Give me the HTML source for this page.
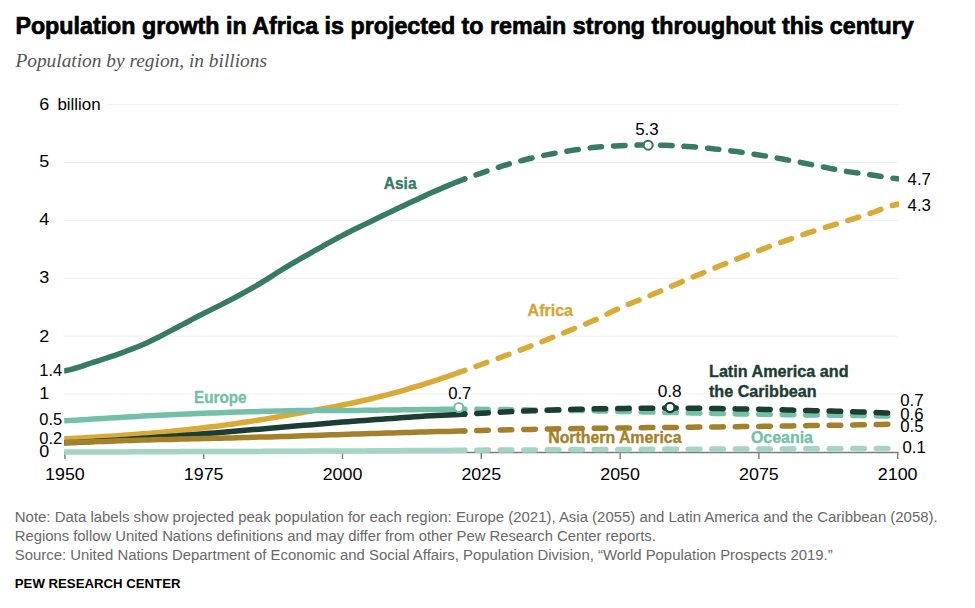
<!DOCTYPE html>
<html><head><meta charset="utf-8"><style>
html,body{margin:0;padding:0;background:#fff;width:975px;height:608px;overflow:hidden}
svg{display:block}
</style></head><body>
<svg width="975" height="608" viewBox="0 0 975 608">
<rect width="975" height="608" fill="#fff"/><defs><clipPath id="cl"><rect x="64.2" y="0" width="900" height="608"/></clipPath><clipPath id="cr"><rect x="0" y="0" width="899" height="608"/></clipPath></defs>
<line x1="64" y1="394.1" x2="898" y2="394.1" stroke="#f0f0f0" stroke-width="1"/>
<line x1="64" y1="336.2" x2="898" y2="336.2" stroke="#f0f0f0" stroke-width="1"/>
<line x1="64" y1="278.3" x2="898" y2="278.3" stroke="#f0f0f0" stroke-width="1"/>
<line x1="64" y1="220.4" x2="898" y2="220.4" stroke="#f0f0f0" stroke-width="1"/>
<line x1="64" y1="162.5" x2="898" y2="162.5" stroke="#f0f0f0" stroke-width="1"/>
<line x1="108" y1="104.6" x2="898" y2="104.6" stroke="#f0f0f0" stroke-width="1"/>
<line x1="64.4" y1="452.5" x2="898.5" y2="452.5" stroke="#7c7c7c" stroke-width="1.4"/>
<line x1="64.9" y1="452" x2="64.9" y2="459" stroke="#7c7c7c" stroke-width="1.4"/>
<line x1="203.7" y1="452" x2="203.7" y2="459" stroke="#7c7c7c" stroke-width="1.4"/>
<line x1="342.5" y1="452" x2="342.5" y2="459" stroke="#7c7c7c" stroke-width="1.4"/>
<line x1="481.3" y1="452" x2="481.3" y2="459" stroke="#7c7c7c" stroke-width="1.4"/>
<line x1="620.1" y1="452" x2="620.1" y2="459" stroke="#7c7c7c" stroke-width="1.4"/>
<line x1="758.9" y1="452" x2="758.9" y2="459" stroke="#7c7c7c" stroke-width="1.4"/>
<line x1="897.7" y1="452" x2="897.7" y2="459" stroke="#7c7c7c" stroke-width="1.4"/>
<path d="M64.9,452.1 L70.5,452.1 L76.0,452.0 L81.6,452.0 L87.1,452.0 L92.7,452.0 L98.2,452.0 L103.8,451.9 L109.3,451.9 L114.9,451.9 L120.4,451.9 L126.0,451.9 L131.5,451.8 L137.1,451.8 L142.6,451.8 L148.2,451.8 L153.7,451.7 L159.3,451.7 L164.8,451.7 L170.4,451.7 L175.9,451.7 L181.5,451.6 L187.0,451.6 L192.6,451.6 L198.1,451.6 L203.7,451.6 L209.3,451.5 L214.8,451.5 L220.4,451.5 L225.9,451.5 L231.5,451.5 L237.0,451.5 L242.6,451.4 L248.1,451.4 L253.7,451.4 L259.2,451.4 L264.8,451.3 L270.3,451.3 L275.9,451.3 L281.4,451.3 L287.0,451.2 L292.5,451.2 L298.1,451.2 L303.6,451.2 L309.2,451.1 L314.7,451.1 L320.3,451.1 L325.8,451.1 L331.4,451.0 L336.9,451.0 L342.5,451.0 L348.1,451.0 L353.6,450.9 L359.2,450.9 L364.7,450.9 L370.3,450.8 L375.8,450.8 L381.4,450.8 L386.9,450.7 L392.5,450.7 L398.0,450.7 L403.6,450.6 L409.1,450.6 L414.7,450.6 L420.2,450.5 L425.8,450.5 L431.3,450.5 L436.9,450.4 L442.4,450.4 L448.0,450.4 L453.5,450.3 L459.1,450.3 L464.6,450.3" fill="none" stroke="#a3d4c7" stroke-width="5.5" stroke-linecap="round" stroke-linejoin="round" clip-path="url(#cl)"/>
<path d="M464.6,450.3 L470.2,450.2 L475.7,450.2 L481.3,450.2 L486.9,450.1 L492.4,450.1 L498.0,450.1 L503.5,450.1 L509.1,450.0 L514.6,450.0 L520.2,450.0 L525.7,449.9 L531.3,449.9 L536.8,449.9 L542.4,449.8 L547.9,449.8 L553.5,449.8 L559.0,449.8 L564.6,449.7 L570.1,449.7 L575.7,449.7 L581.2,449.7 L586.8,449.6 L592.3,449.6 L597.9,449.6 L603.4,449.5 L609.0,449.5 L614.5,449.5 L620.1,449.5 L625.7,449.4 L631.2,449.4 L636.8,449.4 L642.3,449.4 L647.9,449.4 L653.4,449.3 L659.0,449.3 L664.5,449.3 L670.1,449.3 L675.6,449.2 L681.2,449.2 L686.7,449.2 L692.3,449.2 L697.8,449.2 L703.4,449.1 L708.9,449.1 L714.5,449.1 L720.0,449.1 L725.6,449.1 L731.1,449.0 L736.7,449.0 L742.2,449.0 L747.8,449.0 L753.3,449.0 L758.9,448.9 L764.5,448.9 L770.0,448.9 L775.6,448.9 L781.1,448.9 L786.7,448.9 L792.2,448.8 L797.8,448.8 L803.3,448.8 L808.9,448.8 L814.4,448.8 L820.0,448.7 L825.5,448.7 L831.1,448.7 L836.6,448.7 L842.2,448.7 L847.7,448.6 L853.3,448.6 L858.8,448.6 L864.4,448.6 L869.9,448.6 L875.5,448.5 L881.0,448.5 L886.6,448.5 L892.1,448.5 L897.7,448.5" fill="none" stroke="#a3d4c7" stroke-width="5.5" stroke-linecap="round" stroke-linejoin="round" stroke-dasharray="11.5 12.0" stroke-dashoffset="-12.2" clip-path="url(#cr)"/>
<path d="M64.9,438.8 L70.5,438.6 L76.0,438.3 L81.6,438.0 L87.1,437.6 L92.7,437.3 L98.2,437.0 L103.8,436.6 L109.3,436.3 L114.9,435.9 L120.4,435.5 L126.0,435.1 L131.5,434.7 L137.1,434.3 L142.6,433.8 L148.2,433.4 L153.7,432.9 L159.3,432.4 L164.8,431.9 L170.4,431.4 L175.9,430.8 L181.5,430.2 L187.0,429.7 L192.6,429.1 L198.1,428.4 L203.7,427.8 L209.3,427.1 L214.8,426.4 L220.4,425.7 L225.9,424.9 L231.5,424.2 L237.0,423.4 L242.6,422.5 L248.1,421.7 L253.7,420.9 L259.2,420.0 L264.8,419.1 L270.3,418.1 L275.9,417.2 L281.4,416.2 L287.0,415.2 L292.5,414.3 L298.1,413.3 L303.6,412.3 L309.2,411.3 L314.7,410.3 L320.3,409.3 L325.8,408.3 L331.4,407.2 L336.9,406.2 L342.5,405.0 L348.1,403.9 L353.6,402.7 L359.2,401.5 L364.7,400.3 L370.3,399.0 L375.8,397.6 L381.4,396.2 L386.9,394.8 L392.5,393.4 L398.0,391.8 L403.6,390.3 L409.1,388.7 L414.7,387.0 L420.2,385.3 L425.8,383.6 L431.3,381.8 L436.9,380.0 L442.4,378.1 L448.0,376.3 L453.5,374.4 L459.1,372.4 L464.6,370.5" fill="none" stroke="#d9aa36" stroke-width="5.5" stroke-linecap="round" stroke-linejoin="round" clip-path="url(#cl)"/>
<path d="M464.6,370.5 L470.2,368.5 L475.7,366.5 L481.3,364.5 L486.9,362.4 L492.4,360.4 L498.0,358.4 L503.5,356.3 L509.1,354.3 L514.6,352.2 L520.2,350.1 L525.7,348.0 L531.3,345.8 L536.8,343.7 L542.4,341.5 L547.9,339.3 L553.5,337.0 L559.0,334.8 L564.6,332.6 L570.1,330.3 L575.7,328.1 L581.2,325.9 L586.8,323.6 L592.3,321.1 L597.9,318.6 L603.4,315.9 L609.0,313.1 L614.5,310.4 L620.1,307.9 L625.7,305.5 L631.2,303.2 L636.8,301.0 L642.3,298.8 L647.9,296.5 L653.4,294.1 L659.0,291.7 L664.5,289.3 L670.1,286.8 L675.6,284.4 L681.2,282.1 L686.7,279.7 L692.3,277.3 L697.8,275.0 L703.4,272.7 L708.9,270.4 L714.5,268.1 L720.0,265.8 L725.6,263.6 L731.1,261.3 L736.7,259.1 L742.2,256.9 L747.8,254.8 L753.3,252.6 L758.9,250.5 L764.5,248.4 L770.0,246.3 L775.6,244.3 L781.1,242.3 L786.7,240.3 L792.2,238.4 L797.8,236.4 L803.3,234.6 L808.9,232.7 L814.4,230.9 L820.0,229.1 L825.5,227.4 L831.1,225.7 L836.6,224.0 L842.2,222.3 L847.7,220.5 L853.3,218.8 L858.8,217.0 L864.4,215.2 L869.9,213.5 L875.5,211.5 L881.0,209.3 L886.6,207.2 L892.1,205.5 L897.7,204.2" fill="none" stroke="#d9aa36" stroke-width="5.5" stroke-linecap="round" stroke-linejoin="round" stroke-dasharray="11.5 12.0" stroke-dashoffset="-12.2" clip-path="url(#cr)"/>
<path d="M64.9,420.7 L70.5,420.5 L76.0,420.2 L81.6,419.8 L87.1,419.4 L92.7,419.1 L98.2,418.8 L103.8,418.4 L109.3,418.1 L114.9,417.7 L120.4,417.4 L126.0,417.1 L131.5,416.7 L137.1,416.4 L142.6,416.0 L148.2,415.7 L153.7,415.5 L159.3,415.2 L164.8,414.9 L170.4,414.7 L175.9,414.5 L181.5,414.2 L187.0,414.0 L192.6,413.7 L198.1,413.5 L203.7,413.3 L209.3,413.1 L214.8,412.9 L220.4,412.7 L225.9,412.5 L231.5,412.3 L237.0,412.1 L242.6,412.0 L248.1,411.8 L253.7,411.7 L259.2,411.5 L264.8,411.3 L270.3,411.2 L275.9,411.0 L281.4,410.9 L287.0,410.8 L292.5,410.7 L298.1,410.6 L303.6,410.5 L309.2,410.4 L314.7,410.4 L320.3,410.4 L325.8,410.4 L331.4,410.4 L336.9,410.5 L342.5,410.5 L348.1,410.4 L353.6,410.4 L359.2,410.4 L364.7,410.3 L370.3,410.3 L375.8,410.2 L381.4,410.1 L386.9,410.1 L392.5,410.0 L398.0,409.9 L403.6,409.8 L409.1,409.7 L414.7,409.7 L420.2,409.6 L425.8,409.5 L431.3,409.5 L436.9,409.4 L442.4,409.3 L448.0,409.2 L453.5,409.2 L459.1,409.2 L464.6,409.2" fill="none" stroke="#74bfaa" stroke-width="5.5" stroke-linecap="round" stroke-linejoin="round" clip-path="url(#cl)"/>
<path d="M464.6,409.2 L470.2,409.3 L475.7,409.3 L481.3,409.4 L486.9,409.4 L492.4,409.4 L498.0,409.5 L503.5,409.5 L509.1,409.6 L514.6,409.7 L520.2,409.7 L525.7,409.8 L531.3,409.9 L536.8,409.9 L542.4,410.0 L547.9,410.1 L553.5,410.2 L559.0,410.3 L564.6,410.3 L570.1,410.4 L575.7,410.5 L581.2,410.6 L586.8,410.7 L592.3,410.8 L597.9,410.9 L603.4,411.0 L609.0,411.2 L614.5,411.3 L620.1,411.4 L625.7,411.5 L631.2,411.6 L636.8,411.7 L642.3,411.9 L647.9,412.0 L653.4,412.1 L659.0,412.2 L664.5,412.4 L670.1,412.5 L675.6,412.6 L681.2,412.7 L686.7,412.8 L692.3,413.0 L697.8,413.1 L703.4,413.2 L708.9,413.3 L714.5,413.4 L720.0,413.5 L725.6,413.7 L731.1,413.8 L736.7,413.9 L742.2,414.0 L747.8,414.0 L753.3,414.1 L758.9,414.2 L764.5,414.3 L770.0,414.4 L775.6,414.5 L781.1,414.6 L786.7,414.7 L792.2,414.8 L797.8,414.8 L803.3,414.9 L808.9,415.0 L814.4,415.0 L820.0,415.1 L825.5,415.2 L831.1,415.2 L836.6,415.3 L842.2,415.4 L847.7,415.5 L853.3,415.5 L858.8,415.6 L864.4,415.7 L869.9,415.7 L875.5,415.8 L881.0,415.9 L886.6,415.9 L892.1,416.0 L897.7,416.0" fill="none" stroke="#74bfaa" stroke-width="5.5" stroke-linecap="round" stroke-linejoin="round" stroke-dasharray="11.5 12.0" stroke-dashoffset="-12.2" clip-path="url(#cr)"/>
<path d="M64.9,442.8 L70.5,442.6 L76.0,442.4 L81.6,442.1 L87.1,441.7 L92.7,441.4 L98.2,441.1 L103.8,440.8 L109.3,440.5 L114.9,440.2 L120.4,439.8 L126.0,439.4 L131.5,439.1 L137.1,438.7 L142.6,438.3 L148.2,437.9 L153.7,437.5 L159.3,437.1 L164.8,436.7 L170.4,436.3 L175.9,435.9 L181.5,435.5 L187.0,435.1 L192.6,434.7 L198.1,434.2 L203.7,433.8 L209.3,433.3 L214.8,432.9 L220.4,432.4 L225.9,432.0 L231.5,431.5 L237.0,431.1 L242.6,430.6 L248.1,430.1 L253.7,429.6 L259.2,429.2 L264.8,428.7 L270.3,428.2 L275.9,427.7 L281.4,427.3 L287.0,426.8 L292.5,426.3 L298.1,425.8 L303.6,425.3 L309.2,424.9 L314.7,424.4 L320.3,423.9 L325.8,423.5 L331.4,423.0 L336.9,422.6 L342.5,422.1 L348.1,421.7 L353.6,421.3 L359.2,420.8 L364.7,420.4 L370.3,420.0 L375.8,419.6 L381.4,419.2 L386.9,418.8 L392.5,418.4 L398.0,418.0 L403.6,417.6 L409.1,417.2 L414.7,416.8 L420.2,416.5 L425.8,416.1 L431.3,415.8 L436.9,415.5 L442.4,415.3 L448.0,415.0 L453.5,414.7 L459.1,414.4 L464.6,414.1" fill="none" stroke="#1c3d33" stroke-width="5.5" stroke-linecap="round" stroke-linejoin="round" clip-path="url(#cl)"/>
<path d="M464.6,414.1 L470.2,413.8 L475.7,413.5 L481.3,413.2 L486.9,412.9 L492.4,412.6 L498.0,412.3 L503.5,412.0 L509.1,411.7 L514.6,411.5 L520.2,411.2 L525.7,411.0 L531.3,410.8 L536.8,410.6 L542.4,410.4 L547.9,410.2 L553.5,410.0 L559.0,409.8 L564.6,409.6 L570.1,409.5 L575.7,409.3 L581.2,409.2 L586.8,409.1 L592.3,408.9 L597.9,408.8 L603.4,408.7 L609.0,408.6 L614.5,408.6 L620.1,408.5 L625.7,408.4 L631.2,408.3 L636.8,408.3 L642.3,408.2 L647.9,408.2 L653.4,408.2 L659.0,408.1 L664.5,408.1 L670.1,408.1 L675.6,408.1 L681.2,408.1 L686.7,408.2 L692.3,408.2 L697.8,408.2 L703.4,408.3 L708.9,408.4 L714.5,408.5 L720.0,408.6 L725.6,408.7 L731.1,408.8 L736.7,408.9 L742.2,409.0 L747.8,409.1 L753.3,409.2 L758.9,409.3 L764.5,409.4 L770.0,409.5 L775.6,409.7 L781.1,409.8 L786.7,409.9 L792.2,410.1 L797.8,410.2 L803.3,410.4 L808.9,410.5 L814.4,410.7 L820.0,410.8 L825.5,411.0 L831.1,411.1 L836.6,411.2 L842.2,411.4 L847.7,411.5 L853.3,411.7 L858.8,411.9 L864.4,412.1 L869.9,412.2 L875.5,412.4 L881.0,412.7 L886.6,412.9 L892.1,413.1 L897.7,413.2" fill="none" stroke="#1c3d33" stroke-width="5.5" stroke-linecap="round" stroke-linejoin="round" stroke-dasharray="11.5 12.0" stroke-dashoffset="-12.2" clip-path="url(#cr)"/>
<path d="M64.9,442.6 L70.5,442.5 L76.0,442.3 L81.6,442.1 L87.1,442.0 L92.7,441.8 L98.2,441.6 L103.8,441.4 L109.3,441.2 L114.9,441.0 L120.4,440.8 L126.0,440.6 L131.5,440.4 L137.1,440.2 L142.6,440.1 L148.2,439.9 L153.7,439.8 L159.3,439.6 L164.8,439.5 L170.4,439.4 L175.9,439.2 L181.5,439.1 L187.0,439.0 L192.6,438.8 L198.1,438.7 L203.7,438.6 L209.3,438.5 L214.8,438.3 L220.4,438.2 L225.9,438.0 L231.5,437.9 L237.0,437.7 L242.6,437.6 L248.1,437.4 L253.7,437.3 L259.2,437.1 L264.8,437.0 L270.3,436.9 L275.9,436.7 L281.4,436.6 L287.0,436.4 L292.5,436.2 L298.1,436.0 L303.6,435.8 L309.2,435.6 L314.7,435.4 L320.3,435.2 L325.8,435.0 L331.4,434.8 L336.9,434.7 L342.5,434.5 L348.1,434.3 L353.6,434.1 L359.2,434.0 L364.7,433.8 L370.3,433.6 L375.8,433.4 L381.4,433.3 L386.9,433.1 L392.5,432.9 L398.0,432.7 L403.6,432.6 L409.1,432.4 L414.7,432.2 L420.2,432.1 L425.8,431.9 L431.3,431.8 L436.9,431.6 L442.4,431.5 L448.0,431.4 L453.5,431.2 L459.1,431.1 L464.6,430.9" fill="none" stroke="#a4802a" stroke-width="5.5" stroke-linecap="round" stroke-linejoin="round" clip-path="url(#cl)"/>
<path d="M464.6,430.9 L470.2,430.8 L475.7,430.6 L481.3,430.5 L486.9,430.3 L492.4,430.2 L498.0,430.1 L503.5,430.0 L509.1,429.8 L514.6,429.7 L520.2,429.6 L525.7,429.5 L531.3,429.4 L536.8,429.3 L542.4,429.2 L547.9,429.0 L553.5,428.9 L559.0,428.8 L564.6,428.7 L570.1,428.7 L575.7,428.6 L581.2,428.5 L586.8,428.4 L592.3,428.3 L597.9,428.3 L603.4,428.2 L609.0,428.1 L614.5,428.1 L620.1,428.0 L625.7,427.9 L631.2,427.9 L636.8,427.8 L642.3,427.7 L647.9,427.6 L653.4,427.6 L659.0,427.5 L664.5,427.5 L670.1,427.4 L675.6,427.4 L681.2,427.3 L686.7,427.2 L692.3,427.2 L697.8,427.1 L703.4,427.1 L708.9,427.0 L714.5,426.9 L720.0,426.9 L725.6,426.8 L731.1,426.7 L736.7,426.7 L742.2,426.6 L747.8,426.5 L753.3,426.4 L758.9,426.4 L764.5,426.3 L770.0,426.2 L775.6,426.1 L781.1,426.0 L786.7,426.0 L792.2,425.9 L797.8,425.8 L803.3,425.7 L808.9,425.6 L814.4,425.6 L820.0,425.5 L825.5,425.4 L831.1,425.3 L836.6,425.2 L842.2,425.1 L847.7,425.0 L853.3,424.9 L858.8,424.8 L864.4,424.7 L869.9,424.6 L875.5,424.5 L881.0,424.4 L886.6,424.3 L892.1,424.2 L897.7,424.2" fill="none" stroke="#a4802a" stroke-width="5.5" stroke-linecap="round" stroke-linejoin="round" stroke-dasharray="11.5 12.0" stroke-dashoffset="-12.2" clip-path="url(#cr)"/>
<path d="M64.9,370.7 L70.5,369.6 L76.0,368.0 L81.6,366.3 L87.1,364.4 L92.7,362.5 L98.2,360.8 L103.8,359.0 L109.3,357.2 L114.9,355.3 L120.4,353.3 L126.0,351.2 L131.5,349.1 L137.1,347.0 L142.6,344.7 L148.2,342.2 L153.7,339.6 L159.3,336.8 L164.8,333.8 L170.4,330.9 L175.9,328.0 L181.5,325.1 L187.0,322.2 L192.6,319.2 L198.1,316.3 L203.7,313.4 L209.3,310.6 L214.8,307.9 L220.4,305.1 L225.9,302.3 L231.5,299.4 L237.0,296.5 L242.6,293.4 L248.1,290.4 L253.7,287.2 L259.2,284.0 L264.8,280.6 L270.3,277.1 L275.9,273.5 L281.4,270.0 L287.0,266.6 L292.5,263.3 L298.1,260.1 L303.6,256.9 L309.2,253.8 L314.7,250.7 L320.3,247.6 L325.8,244.4 L331.4,241.4 L336.9,238.3 L342.5,235.4 L348.1,232.5 L353.6,229.8 L359.2,227.1 L364.7,224.4 L370.3,221.7 L375.8,219.0 L381.4,216.3 L386.9,213.6 L392.5,210.9 L398.0,208.3 L403.6,205.7 L409.1,203.0 L414.7,200.4 L420.2,197.9 L425.8,195.3 L431.3,192.8 L436.9,190.4 L442.4,187.9 L448.0,185.6 L453.5,183.3 L459.1,181.1 L464.6,179.0" fill="none" stroke="#377a67" stroke-width="5.5" stroke-linecap="round" stroke-linejoin="round" clip-path="url(#cl)"/>
<path d="M464.6,179.0 L470.2,177.0 L475.7,175.0 L481.3,173.1 L486.9,171.2 L492.4,169.3 L498.0,167.4 L503.5,165.7 L509.1,164.0 L514.6,162.4 L520.2,161.0 L525.7,159.5 L531.3,158.2 L536.8,156.9 L542.4,155.7 L547.9,154.6 L553.5,153.5 L559.0,152.5 L564.6,151.6 L570.1,150.6 L575.7,149.8 L581.2,149.0 L586.8,148.3 L592.3,147.6 L597.9,147.1 L603.4,146.6 L609.0,146.2 L614.5,145.9 L620.1,145.7 L625.7,145.4 L631.2,145.2 L636.8,145.1 L642.3,145.0 L647.9,145.0 L653.4,145.1 L659.0,145.2 L664.5,145.3 L670.1,145.5 L675.6,145.8 L681.2,146.1 L686.7,146.4 L692.3,146.8 L697.8,147.3 L703.4,147.8 L708.9,148.3 L714.5,148.9 L720.0,149.5 L725.6,150.2 L731.1,150.9 L736.7,151.6 L742.2,152.4 L747.8,153.2 L753.3,154.1 L758.9,155.0 L764.5,155.9 L770.0,156.8 L775.6,157.8 L781.1,158.8 L786.7,159.8 L792.2,160.8 L797.8,161.9 L803.3,163.0 L808.9,164.1 L814.4,165.2 L820.0,166.3 L825.5,167.4 L831.1,168.6 L836.6,169.7 L842.2,170.7 L847.7,171.6 L853.3,172.4 L858.8,173.1 L864.4,173.9 L869.9,174.7 L875.5,175.5 L881.0,176.5 L886.6,177.4 L892.1,178.2 L897.7,178.7" fill="none" stroke="#377a67" stroke-width="5.5" stroke-linecap="round" stroke-linejoin="round" stroke-dasharray="11.5 12.0" stroke-dashoffset="-12.2" clip-path="url(#cr)"/>
<circle cx="458.8" cy="407.5" r="4.5" fill="#fff" stroke="#74bfaa" stroke-width="2.1"/>
<circle cx="648.2" cy="145.2" r="4.5" fill="#fff" stroke="#377a67" stroke-width="2.1"/>
<circle cx="670.0" cy="407.5" r="4.6" fill="#fff" stroke="#1c3d33" stroke-width="2.4"/>
<text x="39.3" y="110" font-family="Liberation Sans" font-size="16.2" fill="#000" font-weight="normal" font-style="normal" text-anchor="start" textLength="10.0" lengthAdjust="spacingAndGlyphs">6</text>
<text x="39.3" y="167.2" font-family="Liberation Sans" font-size="16.2" fill="#000" font-weight="normal" font-style="normal" text-anchor="start" textLength="10.0" lengthAdjust="spacingAndGlyphs">5</text>
<text x="39.3" y="225" font-family="Liberation Sans" font-size="16.2" fill="#000" font-weight="normal" font-style="normal" text-anchor="start" textLength="10.0" lengthAdjust="spacingAndGlyphs">4</text>
<text x="39.3" y="283" font-family="Liberation Sans" font-size="16.2" fill="#000" font-weight="normal" font-style="normal" text-anchor="start" textLength="10.0" lengthAdjust="spacingAndGlyphs">3</text>
<text x="39.3" y="342" font-family="Liberation Sans" font-size="16.2" fill="#000" font-weight="normal" font-style="normal" text-anchor="start" textLength="10.0" lengthAdjust="spacingAndGlyphs">2</text>
<text x="39.3" y="375.5" font-family="Liberation Sans" font-size="16.2" fill="#000" font-weight="normal" font-style="normal" text-anchor="start" textLength="22.9" lengthAdjust="spacingAndGlyphs">1.4</text>
<text x="39.3" y="399.2" font-family="Liberation Sans" font-size="16.2" fill="#000" font-weight="normal" font-style="normal" text-anchor="start" textLength="10.0" lengthAdjust="spacingAndGlyphs">1</text>
<text x="39.3" y="425.4" font-family="Liberation Sans" font-size="16.2" fill="#000" font-weight="normal" font-style="normal" text-anchor="start" textLength="22.9" lengthAdjust="spacingAndGlyphs">0.5</text>
<text x="39.3" y="444" font-family="Liberation Sans" font-size="16.2" fill="#000" font-weight="normal" font-style="normal" text-anchor="start" textLength="22.9" lengthAdjust="spacingAndGlyphs">0.2</text>
<text x="39.3" y="456.5" font-family="Liberation Sans" font-size="16.2" fill="#000" font-weight="normal" font-style="normal" text-anchor="start" textLength="10.0" lengthAdjust="spacingAndGlyphs">0</text>
<text x="57.4" y="110" font-family="Liberation Sans" font-size="16.2" fill="#000" font-weight="normal" font-style="normal" text-anchor="start" textLength="43.3" lengthAdjust="spacingAndGlyphs">billion</text>
<text x="64.9" y="479.5" font-family="Liberation Sans" font-size="17.2" fill="#000" font-weight="normal" font-style="normal" text-anchor="middle" textLength="39.7" lengthAdjust="spacingAndGlyphs">1950</text>
<text x="203.7" y="479.5" font-family="Liberation Sans" font-size="17.2" fill="#000" font-weight="normal" font-style="normal" text-anchor="middle" textLength="39.7" lengthAdjust="spacingAndGlyphs">1975</text>
<text x="342.5" y="479.5" font-family="Liberation Sans" font-size="17.2" fill="#000" font-weight="normal" font-style="normal" text-anchor="middle" textLength="39.7" lengthAdjust="spacingAndGlyphs">2000</text>
<text x="481.3" y="479.5" font-family="Liberation Sans" font-size="17.2" fill="#000" font-weight="normal" font-style="normal" text-anchor="middle" textLength="39.7" lengthAdjust="spacingAndGlyphs">2025</text>
<text x="620.1" y="479.5" font-family="Liberation Sans" font-size="17.2" fill="#000" font-weight="normal" font-style="normal" text-anchor="middle" textLength="39.7" lengthAdjust="spacingAndGlyphs">2050</text>
<text x="758.9" y="479.5" font-family="Liberation Sans" font-size="17.2" fill="#000" font-weight="normal" font-style="normal" text-anchor="middle" textLength="39.7" lengthAdjust="spacingAndGlyphs">2075</text>
<text x="897.7" y="479.5" font-family="Liberation Sans" font-size="17.2" fill="#000" font-weight="normal" font-style="normal" text-anchor="middle" textLength="39.7" lengthAdjust="spacingAndGlyphs">2100</text>
<text x="647" y="134.6" font-family="Liberation Sans" font-size="16.2" fill="#000" font-weight="normal" font-style="normal" text-anchor="middle" textLength="23.6" lengthAdjust="spacingAndGlyphs">5.3</text>
<text x="459.8" y="398.5" font-family="Liberation Sans" font-size="16.2" fill="#000" font-weight="normal" font-style="normal" text-anchor="middle" textLength="23.2" lengthAdjust="spacingAndGlyphs">0.7</text>
<text x="669.7" y="397" font-family="Liberation Sans" font-size="16.2" fill="#000" font-weight="normal" font-style="normal" text-anchor="middle" textLength="24" lengthAdjust="spacingAndGlyphs">0.8</text>
<text x="907.6" y="184.7" font-family="Liberation Sans" font-size="16.2" fill="#000" font-weight="normal" font-style="normal" text-anchor="start" textLength="23.4" lengthAdjust="spacingAndGlyphs">4.7</text>
<text x="907.6" y="211" font-family="Liberation Sans" font-size="16.2" fill="#000" font-weight="normal" font-style="normal" text-anchor="start" textLength="23.4" lengthAdjust="spacingAndGlyphs">4.3</text>
<text x="900.2" y="406.3" font-family="Liberation Sans" font-size="16.2" fill="#000" font-weight="normal" font-style="normal" text-anchor="start" textLength="23.3" lengthAdjust="spacingAndGlyphs">0.7</text>
<text x="900.2" y="419.6" font-family="Liberation Sans" font-size="16.2" fill="#000" font-weight="normal" font-style="normal" text-anchor="start" textLength="23.3" lengthAdjust="spacingAndGlyphs">0.6</text>
<text x="900.2" y="431.6" font-family="Liberation Sans" font-size="16.2" fill="#000" font-weight="normal" font-style="normal" text-anchor="start" textLength="23.3" lengthAdjust="spacingAndGlyphs">0.5</text>
<text x="902.5" y="453.3" font-family="Liberation Sans" font-size="16.2" fill="#000" font-weight="normal" font-style="normal" text-anchor="start" textLength="23.3" lengthAdjust="spacingAndGlyphs">0.1</text>
<text x="383.8" y="189.3" font-family="Liberation Sans" font-size="16" fill="#377a67" font-weight="bold" font-style="normal" text-anchor="start" textLength="32.7" lengthAdjust="spacingAndGlyphs" stroke="#377a67" stroke-width="0.35">Asia</text>
<text x="527.6" y="315.6" font-family="Liberation Sans" font-size="16" fill="#d4a734" font-weight="bold" font-style="normal" text-anchor="start" textLength="45.4" lengthAdjust="spacingAndGlyphs" stroke="#d4a734" stroke-width="0.35">Africa</text>
<text x="194" y="402.6" font-family="Liberation Sans" font-size="16" fill="#74bfaa" font-weight="bold" font-style="normal" text-anchor="start" textLength="52.6" lengthAdjust="spacingAndGlyphs" stroke="#74bfaa" stroke-width="0.35">Europe</text>
<text x="709" y="377.2" font-family="Liberation Sans" font-size="16" fill="#1c3d33" font-weight="bold" font-style="normal" text-anchor="start" textLength="139.6" lengthAdjust="spacingAndGlyphs" stroke="#1c3d33" stroke-width="0.35">Latin America and</text>
<text x="709" y="396.9" font-family="Liberation Sans" font-size="16" fill="#1c3d33" font-weight="bold" font-style="normal" text-anchor="start" textLength="107.6" lengthAdjust="spacingAndGlyphs" stroke="#1c3d33" stroke-width="0.35">the Caribbean</text>
<text x="548.2" y="443" font-family="Liberation Sans" font-size="16" fill="#a4802a" font-weight="bold" font-style="normal" text-anchor="start" textLength="133.3" lengthAdjust="spacingAndGlyphs" stroke="#a4802a" stroke-width="0.35">Northern America</text>
<text x="750.9" y="442.6" font-family="Liberation Sans" font-size="16" fill="#74bfaa" font-weight="bold" font-style="normal" text-anchor="start" textLength="62.1" lengthAdjust="spacingAndGlyphs" stroke="#74bfaa" stroke-width="0.35">Oceania</text>
<text x="15.4" y="33.7" font-family="Liberation Sans" font-size="23.3" fill="#000" font-weight="bold" font-style="normal" text-anchor="start" textLength="898.4" lengthAdjust="spacingAndGlyphs" stroke="#000" stroke-width="0.7">Population growth in Africa is projected to remain strong throughout this century</text>
<text x="15.4" y="66.5" font-family="Liberation Serif" font-size="18.6" fill="#555" font-weight="normal" font-style="italic" text-anchor="start" textLength="251.6" lengthAdjust="spacingAndGlyphs">Population by region, in billions</text>
<text x="14.8" y="521.5" font-family="Liberation Sans" font-size="13.8" fill="#686868" font-weight="normal" font-style="normal" text-anchor="start" textLength="922.9" lengthAdjust="spacingAndGlyphs">Note: Data labels show projected peak population for each region: Europe (2021), Asia (2055) and Latin America and the Caribbean (2058).</text>
<text x="14.8" y="540.8" font-family="Liberation Sans" font-size="13.8" fill="#686868" font-weight="normal" font-style="normal" text-anchor="start" textLength="641" lengthAdjust="spacingAndGlyphs">Regions follow United Nations definitions and may differ from other Pew Research Center reports.</text>
<text x="14.8" y="560.3" font-family="Liberation Sans" font-size="13.8" fill="#686868" font-weight="normal" font-style="normal" text-anchor="start" textLength="817.9" lengthAdjust="spacingAndGlyphs">Source: United Nations Department of Economic and Social Affairs, Population Division, “World Population Prospects 2019.”</text>
<text x="14.8" y="588.2" font-family="Liberation Sans" font-size="13.2" fill="#000" font-weight="bold" font-style="normal" text-anchor="start" textLength="165.7" lengthAdjust="spacingAndGlyphs">PEW RESEARCH CENTER</text>
</svg>
</body></html>
